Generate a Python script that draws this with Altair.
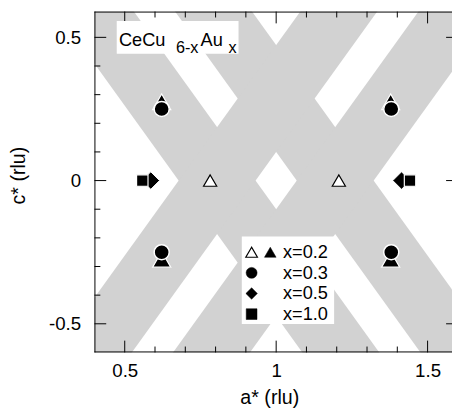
import altair as alt
import pandas as pd

FONT = "Liberation Sans"
GREY = "#d2d2d2"

# grey bands: a* of the left / right band edge at c* = +0.62 and c* = -0.62
band_name = ["A", "A", "B", "B", "C", "C", "D", "D"]
band_c = [0.62, -0.62, 0.62, -0.62, 0.62, -0.62, 0.62, -0.62]
band_left = [0.256, 1.100, 0.646, 1.490, 1.490, 0.646, 1.100, 0.256]
band_right = [0.510, 1.354, 0.900, 1.744, 1.744, 0.900, 1.354, 0.510]

# data points (a*, c*)
tri_open_a = [0.782, 1.207]
tri_open_c = [0.0, 0.0]
tri_fill_a = [0.622, 1.378, 0.622, 1.378]
tri_fill_c = [0.275, 0.275, -0.275, -0.275]
circle_a = [0.622, 1.380, 0.622, 1.380]
circle_c = [0.25, 0.25, -0.25, -0.25]
diamond_a = [0.586, 1.414]
diamond_c = [0.0, 0.0]
square_a = [0.558, 1.442]
square_c = [0.0, 0.0]

x_major = [0.5, 1.0, 1.5]
x_minor = [0.6, 0.7, 0.8, 0.9, 1.1, 1.2, 1.3, 1.4]
y_major = [-0.5, 0.0, 0.5]
y_minor = [-0.4, -0.3, -0.2, -0.1, 0.1, 0.2, 0.3, 0.4]

legend_labels = ["x=0.2", "x=0.3", "x=0.5", "x=1.0"]

W, H = 364, 347

xs = alt.Scale(domain=[0.4, 1.5806], nice=False, zero=False)
ys = alt.Scale(domain=[-0.6, 0.59], nice=False, zero=False)

x_axis = alt.Axis(
    values=x_major, ticks=False, tickSize=0, domain=False, grid=False,
    labelExpr="datum.value == 1 ? '1' : format(datum.value, '.1f')",
    labelPadding=25, labelBaseline="alphabetic", labelFontSize=19, labelFont=FONT,
    labelColor="black", labelOverlap=False, labelFlush=False,
    title="a* (rlu)", titleFont=FONT, titleFontSize=20, titleFontWeight="normal",
    titleColor="black", titleY=52, titleBaseline="alphabetic", titleX=W / 2 - 4,
)
y_axis = alt.Axis(
    values=y_major, ticks=False, tickSize=0, domain=False, grid=False,
    labelExpr="datum.value == 0 ? '0' : (datum.value < 0 ? '-' + format(-datum.value, '.1f') : format(datum.value, '.1f'))",
    labelPadding=14, labelFontSize=19, labelFont=FONT, labelColor="black",
    labelOverlap=False, labelFlush=False,
    title="c* (rlu)", titleFont=FONT, titleFontSize=20, titleFontWeight="normal",
    titleColor="black", titleX=-67, titleY=H / 2 - 7,
)

X = lambda f: alt.X(f, scale=xs, axis=x_axis)
Y = lambda f: alt.Y(f, scale=ys, axis=y_axis)
one = pd.DataFrame({"k": [0]})

bands = alt.Chart(pd.DataFrame({
    "band": band_name, "c": band_c, "left": band_left, "right": band_right
})).mark_area(orient="horizontal", color=GREY, opacity=1, clip=True).encode(
    y=Y("c:Q"), x=X("left:Q"), x2="right:Q", detail="band:N"
)


def xticks(vals, y1, y2):
    return alt.Chart(pd.DataFrame({"a": vals})).mark_rule(color="black", strokeWidth=1).encode(
        x=X("a:Q"), y=alt.value(y1), y2=alt.value(y2))


def yticks(vals, x1, x2):
    return alt.Chart(pd.DataFrame({"c": vals})).mark_rule(color="black", strokeWidth=1).encode(
        y=Y("c:Q"), x=alt.value(x1), x2=alt.value(x2))


ticks = [
    xticks(x_major, H, H - 12), xticks(x_minor, H, H - 6),
    xticks(x_major, 0, 12), xticks(x_minor, 0, 6),
    yticks(y_major, 0, 12), yticks(y_minor, 0, 6),
    yticks(y_major, W - 6, W),
]

frame = [
    alt.Chart(one).mark_rule(color="black", strokeWidth=1).encode(
        x=alt.value(0.5), y=alt.value(0), y2=alt.value(H)),
    alt.Chart(one).mark_rule(color="black", strokeWidth=1).encode(
        x=alt.value(0), x2=alt.value(W), y=alt.value(0.5)),
    alt.Chart(one).mark_rule(color="black", strokeWidth=1).encode(
        x=alt.value(0), x2=alt.value(W), y=alt.value(H - 0.5)),
]


def box(x1, x2, y1, y2):
    return alt.Chart(one).mark_rect(color="white", opacity=1).encode(
        x=alt.value(x1), x2=alt.value(x2), y=alt.value(y1), y2=alt.value(y2))


def pts(a, c, shape, size, fill, stroke, sw):
    return alt.Chart(pd.DataFrame({"a": a, "c": c})).mark_point(
        shape=shape, size=size, filled=True, fill=fill, stroke=stroke,
        strokeWidth=sw, opacity=1, clip=True
    ).encode(x=X("a:Q"), y=Y("c:Q"))


def lsym(x, y, shape, size, fill, stroke, sw):
    return alt.Chart(one).mark_point(
        shape=shape, size=size, filled=True, fill=fill, stroke=stroke,
        strokeWidth=sw, opacity=1
    ).encode(x=alt.value(x), y=alt.value(y))


def txt(s, x, y, size, baseline="alphabetic"):
    return alt.Chart(one).mark_text(
        text=s, font=FONT, fontSize=size, color="black", align="left", baseline=baseline
    ).encode(x=alt.value(x), y=alt.value(y))


markers = [
    pts(tri_open_a, tri_open_c, "triangle-up", 180, "white", "black", 1.2),
    pts(tri_fill_a, tri_fill_c, "triangle-up", 340, "black", "white", 1.2),
    pts(circle_a, circle_c, "circle", 235, "black", "white", 1.5),
    pts(diamond_a, diamond_c, "diamond", 320, "black", "white", 1.0),
    pts(square_a, square_c, "square", 135, "black", "white", 1.2),
]

rows_y = [245, 266, 287, 308]
legend = [
    box(150, 244, 229, 318),
    lsym(160, rows_y[0], "triangle-up", 140, "white", "black", 1.2),
    lsym(179, rows_y[0], "triangle-up", 140, "black", "black", 0.5),
    lsym(160, rows_y[1], "circle", 125, "black", "black", 0.5),
    lsym(160, rows_y[2], "diamond", 135, "black", "black", 0.5),
    lsym(160, rows_y[3], "square", 120, "black", "black", 0.5),
] + [txt(lab, 192, ry, 18.5, "middle") for lab, ry in zip(legend_labels, rows_y)]

title = [
    box(22.7, 146.7, 9.7, 43),
    txt("CeCu", 25, 34.7, 18.5),
    txt("6-x", 83, 42, 16.5),
    txt("Au", 108, 34.7, 18.5),
    txt("x", 136.5, 42, 16.5),
]

chart = alt.layer(bands, *ticks, *frame, *title, *legend, *markers).properties(
    width=W, height=H, autosize="none",
    padding={"left": 88, "top": 0, "right": 0, "bottom": 57},
).configure_view(stroke=None)

chart.save("out.html", embed_options={"renderer": "svg", "actions": False})
